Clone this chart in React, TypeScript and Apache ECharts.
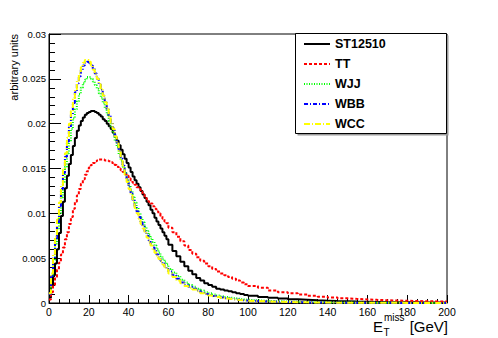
import React, { useEffect, useRef } from "react";
import * as echarts from "echarts";

// Bin edges (GeV): 1 GeV bins to 60, 2 GeV bins to 100, 5 GeV bins to 200
const binEdges = [
  0, 1, 2, 3, 4, 5, 6, 7, 8, 9, 10, 11, 12, 13, 14, 15, 16, 17, 18, 19,
  20, 21, 22, 23, 24, 25, 26, 27, 28, 29, 30, 31, 32, 33, 34, 35, 36, 37, 38, 39,
  40, 41, 42, 43, 44, 45, 46, 47, 48, 49, 50, 51, 52, 53, 54, 55, 56, 57, 58, 59,
  60, 62, 64, 66, 68, 70, 72, 74, 76, 78, 80, 82, 84, 86, 88, 90, 92, 94, 96, 98,
  100, 105, 110, 115, 120, 125, 130, 135, 140, 145, 150, 155, 160, 165, 170, 175,
  180, 185, 190, 195, 200,
];

const seriesNames = ["ST12510", "TT", "WJJ", "WBB", "WCC"];

const st12510 = [
  0.0006, 0.0019, 0.0031, 0.0044, 0.006, 0.0078, 0.0097, 0.0113, 0.0128, 0.0142,
  0.0155, 0.0165, 0.0175, 0.0184, 0.0192, 0.0198, 0.0203, 0.0207, 0.021, 0.0212,
  0.0213, 0.0214, 0.0214, 0.0213, 0.0212, 0.021, 0.0208, 0.0205, 0.0203, 0.02,
  0.0197, 0.0194, 0.019, 0.0185, 0.0181, 0.0176, 0.0171, 0.0166, 0.0161, 0.0156,
  0.0151, 0.0146, 0.0141, 0.0137, 0.0133, 0.0129, 0.0125, 0.0121, 0.0117, 0.0113,
  0.0109, 0.0104, 0.01, 0.0095, 0.0091, 0.0087, 0.0083, 0.0079, 0.0075, 0.0071,
  0.0065, 0.0058, 0.0052, 0.0046, 0.0041, 0.0036, 0.0032, 0.0028, 0.0025, 0.0022,
  0.002, 0.0018, 0.0016, 0.0015, 0.0014, 0.0013, 0.0012, 0.0011, 0.001, 0.0009,
  0.0008, 0.00068, 0.00058, 0.0005, 0.00042, 0.00036, 0.0003, 0.00026, 0.00022, 0.00019,
  0.00016, 0.00014, 0.00012, 0.0001, 0.00009, 0.00008, 0.00007, 0.00006, 0.00005, 0.00005,
];

const tt = [
  0.0004, 0.0012, 0.002, 0.0029, 0.0037, 0.0045, 0.0054, 0.0062, 0.0071, 0.0079,
  0.0088, 0.0096, 0.0105, 0.0113, 0.012, 0.0127, 0.0133, 0.0138, 0.0143, 0.0147,
  0.0151, 0.0154, 0.0156, 0.0158, 0.0159, 0.016, 0.016, 0.016, 0.0159, 0.0159,
  0.0158, 0.0157, 0.0155, 0.0154, 0.0152, 0.015, 0.0148, 0.0146, 0.0144, 0.0142,
  0.0139, 0.0137, 0.0134, 0.0132, 0.0129, 0.0127, 0.0124, 0.0121, 0.0119, 0.0116,
  0.0113, 0.0111, 0.0108, 0.0105, 0.0102, 0.01, 0.0097, 0.0094, 0.0091, 0.0089,
  0.0084, 0.0079, 0.0074, 0.0069, 0.0064, 0.0059, 0.0055, 0.0051, 0.0047, 0.0044,
  0.0041, 0.0038, 0.0035, 0.0033, 0.0031, 0.0029, 0.0027, 0.0025, 0.0023, 0.0021,
  0.0019, 0.0017, 0.0014, 0.0012, 0.0011, 0.00095, 0.0008, 0.0007, 0.0006, 0.00052,
  0.00046, 0.0004, 0.00035, 0.00031, 0.00028, 0.00025, 0.00022, 0.0002, 0.00018, 0.00016,
];

const wjj = [
  0.001, 0.003, 0.0048, 0.0066, 0.0083, 0.01, 0.0118, 0.0135, 0.0152, 0.0167,
  0.0181, 0.0194, 0.0206, 0.0216, 0.0225, 0.0233, 0.024, 0.0245, 0.0249, 0.0252,
  0.0252, 0.025, 0.0247, 0.0243, 0.0239, 0.0234, 0.0229, 0.0223, 0.0217, 0.021,
  0.0203, 0.0196, 0.0189, 0.0181, 0.0174, 0.0166, 0.0159, 0.0152, 0.0145, 0.0138,
  0.0131, 0.0125, 0.0118, 0.0112, 0.0106, 0.01, 0.0095, 0.009, 0.0085, 0.008,
  0.0076, 0.0072, 0.0068, 0.0064, 0.006, 0.0056, 0.0052, 0.0049, 0.0046, 0.0043,
  0.0038, 0.0034, 0.003, 0.0026, 0.0023, 0.002, 0.0018, 0.0016, 0.0014, 0.0012,
  0.0011, 0.00095, 0.00085, 0.00075, 0.00066, 0.00058, 0.00052, 0.00046, 0.0004, 0.00036,
  0.0003, 0.00024, 0.0002, 0.00016, 0.00013, 0.00011, 0.00009, 0.00007, 0.00006, 0.00005,
  0.00004, 0.00004, 0.00003, 0.00003, 0.00002, 0.00002, 0.00002, 0.00002, 0.00001, 0.00001,
];

const wbb = [
  0.001, 0.003, 0.005, 0.007, 0.0089, 0.0108, 0.0127, 0.0145, 0.0163, 0.018,
  0.0196, 0.021, 0.0223, 0.0235, 0.0245, 0.0253, 0.026, 0.0265, 0.0268, 0.0269,
  0.0268, 0.0265, 0.0261, 0.0256, 0.025, 0.0244, 0.0238, 0.0231, 0.0224, 0.0217,
  0.0209, 0.0202, 0.0195, 0.0187, 0.0179, 0.0171, 0.0161, 0.0153, 0.0145, 0.0137,
  0.0129, 0.0122, 0.0115, 0.0108, 0.0102, 0.0096, 0.009, 0.0085, 0.008, 0.0075,
  0.007, 0.0066, 0.0062, 0.0058, 0.0054, 0.0051, 0.0047, 0.0044, 0.0041, 0.0038,
  0.0035, 0.0031, 0.0027, 0.0023, 0.002, 0.0018, 0.0016, 0.0014, 0.0012, 0.001,
  0.00088, 0.00078, 0.00068, 0.0006, 0.00052, 0.00046, 0.0004, 0.00035, 0.00031, 0.00027,
  0.00023, 0.00018, 0.00014, 0.00011, 0.00009, 0.00007, 0.00006, 0.00005, 0.00004, 0.00003,
  0.00003, 0.00002, 0.00002, 0.00002, 0.00001, 0.00001, 0.00001, 0.00001, 0.00001, 0.00001,
];

const wcc = [
  0.0011, 0.0033, 0.0054, 0.0074, 0.0093, 0.0112, 0.0131, 0.0149, 0.0167, 0.0184,
  0.02, 0.0214, 0.0227, 0.0238, 0.0248, 0.0256, 0.0263, 0.0268, 0.0271, 0.0271,
  0.0269, 0.0265, 0.026, 0.0255, 0.025, 0.0244, 0.0238, 0.0231, 0.0224, 0.0216,
  0.0208, 0.0201, 0.0194, 0.0186, 0.0178, 0.017, 0.016, 0.0151, 0.0143, 0.0135,
  0.0127, 0.012, 0.0113, 0.0106, 0.01, 0.0094, 0.0088, 0.0083, 0.0078, 0.0073,
  0.0069, 0.0064, 0.006, 0.0056, 0.0053, 0.0049, 0.0046, 0.0043, 0.004, 0.0037,
  0.0033, 0.0029, 0.0025, 0.0022, 0.0019, 0.0017, 0.0015, 0.0013, 0.0011, 0.00097,
  0.00085, 0.00075, 0.00066, 0.00058, 0.0005, 0.00044, 0.00039, 0.00034, 0.0003, 0.00026,
  0.00022, 0.00017, 0.00014, 0.00011, 0.00009, 0.00007, 0.00006, 0.00005, 0.00004, 0.00003,
  0.00003, 0.00002, 0.00002, 0.00002, 0.00002, 0.00001, 0.00001, 0.00001, 0.00001, 0.00001,
];

const yTickLabels = ["0", "0.005", "0.01", "0.015", "0.02", "0.025", "0.03"];
const xTickLabels = ["0", "20", "40", "60", "80", "100", "120", "140", "160", "180", "200"];

const FONT = "'Liberation Sans', Arial, Helvetica, sans-serif";

const lineStyles: { color: string; dash: any }[] = [
  { color: "#000000", dash: "solid" },
  { color: "#ff0000", dash: [3, 2] },
  { color: "#00ff00", dash: [1, 1.5] },
  { color: "#0000ff", dash: [4, 2, 1, 2] },
  { color: "#ffff00", dash: [6, 2, 1, 2] },
];

function toSteps(vals: number[]) {
  const pts: number[][] = vals.map((v, i) => [binEdges[i], v]);
  pts.push([binEdges[binEdges.length - 1], vals[vals.length - 1]]);
  return pts;
}

export default function App() {
  const ref = useRef<HTMLDivElement>(null);
  useEffect(() => {
    if (!ref.current) return;
    const chart = echarts.init(ref.current, undefined, { renderer: "svg" });
    const allData = [st12510, tt, wjj, wbb, wcc];

    const legendTop = 44;
    const legendStep = 20;
    const legendGraphics: any[] = [
      {
        type: "rect",
        shape: { x: 297.5, y: 35.5, width: 151, height: 100 },
        style: { fill: "#9a9a9a", stroke: "none" },
        z: 100,
      },
      {
        type: "rect",
        shape: { x: 295.5, y: 33.5, width: 151, height: 100 },
        style: { fill: "#ffffff", stroke: "#000000", lineWidth: 1 },
        z: 101,
      },
    ];
    seriesNames.forEach((name, i) => {
      const y = legendTop + i * legendStep;
      const ls = lineStyles[i];
      legendGraphics.push({
        type: "line",
        shape: { x1: 304, y1: y, x2: 330, y2: y },
        style: {
          stroke: ls.color,
          lineWidth: 2,
          lineDash: ls.dash === "solid" ? null : ls.dash,
        },
        z: 102,
      });
      legendGraphics.push({
        type: "text",
        x: 335,
        y: y,
        style: {
          text: name,
          fill: "#000",
          font: `bold 12.5px ${FONT}`,
          textAlign: "left",
          textVerticalAlign: "middle",
        },
        z: 102,
      });
    });

    const option: any = {
      animation: false,
      backgroundColor: "#ffffff",
      grid: {
        left: 49,
        right: 51,
        top: 34,
        bottom: 35,
        show: true,
        borderColor: "#000",
        borderWidth: 1,
        backgroundColor: "transparent",
      },
      xAxis: {
        type: "value",
        min: 0,
        max: 200,
        interval: 20,
        axisLine: { show: true, lineStyle: { color: "#000", width: 1 } },
        axisTick: { show: true, inside: true, length: 8, lineStyle: { color: "#000" } },
        minorTick: { show: true, splitNumber: 4, length: 4, lineStyle: { color: "#000" } },
        splitLine: { show: false },
        axisLabel: {
          color: "#000",
          fontSize: 10.5,
          fontFamily: FONT,
          margin: 3,
          formatter: (v: number) => xTickLabels[Math.round(v / 20)] ?? "",
        },
      },
      yAxis: {
        type: "value",
        min: 0,
        max: 0.03,
        interval: 0.005,
        axisLine: { show: true, lineStyle: { color: "#000", width: 1 } },
        axisTick: { show: true, inside: true, length: 12, lineStyle: { color: "#000" } },
        minorTick: { show: true, splitNumber: 5, length: 6, lineStyle: { color: "#000" } },
        splitLine: { show: false },
        axisLabel: {
          color: "#000",
          fontSize: 9.5,
          fontFamily: FONT,
          margin: 3,
          formatter: (v: number) => yTickLabels[Math.round(v / 0.005)] ?? "",
        },
      },
      series: seriesNames.map((name, i) => ({
        name,
        type: "line",
        step: "end",
        symbol: "none",
        data: toSteps(allData[i]),
        lineStyle: {
          color: lineStyles[i].color,
          width: 2,
          type: lineStyles[i].dash,
        },
        itemStyle: { color: lineStyles[i].color },
        z: 2 + i,
      })),
      graphic: [
        {
          type: "text",
          x: 14,
          y: 34,
          rotation: Math.PI / 2,
          style: {
            text: "arbitrary units",
            fill: "#000",
            font: `11px ${FONT}`,
            textAlign: "right",
            textVerticalAlign: "middle",
          },
        },
        {
          type: "text",
          x: 373,
          y: 326.5,
          style: {
            text: "E",
            fill: "#000",
            font: `15px ${FONT}`,
            textAlign: "left",
            textVerticalAlign: "middle",
          },
        },
        {
          type: "text",
          x: 383.5,
          y: 332.5,
          style: {
            text: "T",
            fill: "#000",
            font: `10px ${FONT}`,
            textAlign: "left",
            textVerticalAlign: "middle",
          },
        },
        {
          type: "text",
          x: 384,
          y: 317.5,
          style: {
            text: "miss",
            fill: "#000",
            font: `10px ${FONT}`,
            textAlign: "left",
            textVerticalAlign: "middle",
          },
        },
        {
          type: "text",
          x: 448,
          y: 326.5,
          style: {
            text: "[GeV]",
            fill: "#000",
            font: `15px ${FONT}`,
            textAlign: "right",
            textVerticalAlign: "middle",
          },
        },
        ...legendGraphics,
      ],
    };
    chart.setOption(option);
    return () => chart.dispose();
  }, []);
  return (
    <div
      ref={ref}
      style={{ position: "fixed", left: 0, top: 0, width: 498, height: 338, background: "#fff" }}
    />
  );
}
